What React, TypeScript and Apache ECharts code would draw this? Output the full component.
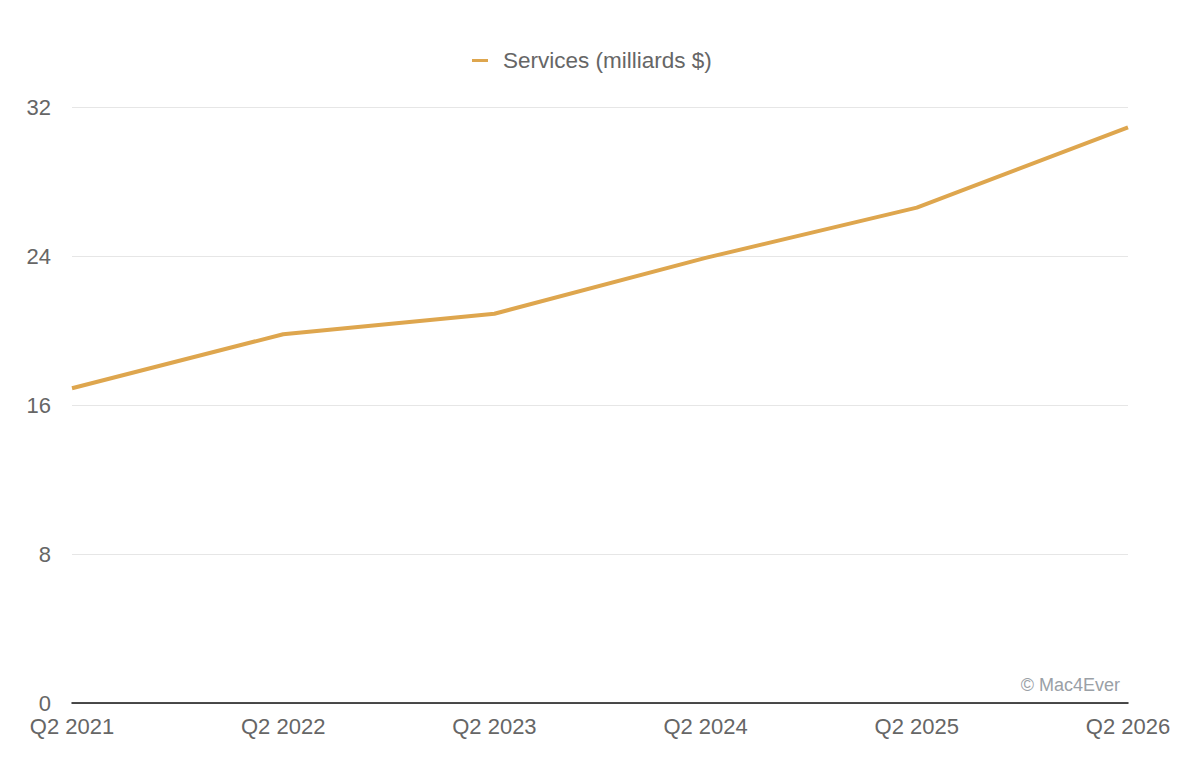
import { useEffect, useRef } from 'react';
import * as echarts from 'echarts';

const quarters = ['Q2 2021', 'Q2 2022', 'Q2 2023', 'Q2 2024', 'Q2 2025', 'Q2 2026'];
const servicesRevenue = [16.9, 19.8, 20.9, 23.9, 26.6, 30.9];
const seriesName = 'Services (milliards $)';

const FONT = '"Liberation Sans", Arial, Helvetica, sans-serif';

const App = () => {
  const chartRef = useRef<HTMLDivElement>(null);

  useEffect(() => {
    if (!chartRef.current) return;
    const chart = echarts.init(chartRef.current, undefined, { renderer: 'svg' });

    chart.setOption({
      animation: false,
      textStyle: { fontFamily: FONT },
      legend: {
        data: [seriesName],
        top: 44,
        left: 467,
        itemWidth: 16,
        itemHeight: 3,
        icon: 'rect',
        textStyle: { fontSize: 22.5, color: '#666666', fontFamily: FONT, padding: [0, 0, 0, 10] }
      },
      grid: { left: 72, right: 72, top: 107, bottom: 63 },
      xAxis: {
        type: 'category',
        data: quarters,
        boundaryGap: false,
        axisLine: { lineStyle: { color: '#111111', width: 1.5 } },
        axisTick: { show: false },
        axisLabel: { fontSize: 22, color: '#666666', margin: 12, fontFamily: FONT }
      },
      yAxis: {
        type: 'value',
        min: 0,
        max: 32,
        interval: 8,
        axisLine: { show: false },
        axisTick: { show: false },
        splitLine: { lineStyle: { color: '#e6e6e6', width: 1 } },
        axisLabel: { fontSize: 22, color: '#666666', margin: 21, fontFamily: FONT }
      },
      graphic: [
        {
          type: 'text',
          right: 80,
          top: 676,
          style: { text: '© Mac4Ever', fontSize: 18, fill: '#9aa0a6', fontFamily: FONT }
        }
      ],
      series: [
        {
          name: seriesName,
          type: 'line',
          data: servicesRevenue,
          symbol: 'none',
          color: '#dea64e',
          lineStyle: { width: 4, color: '#dea64e' }
        }
      ]
    });

    return () => chart.dispose();
  }, []);

  return <div ref={chartRef} style={{ width: 1200, height: 766, margin: -8 }} />;
};

export default App;
